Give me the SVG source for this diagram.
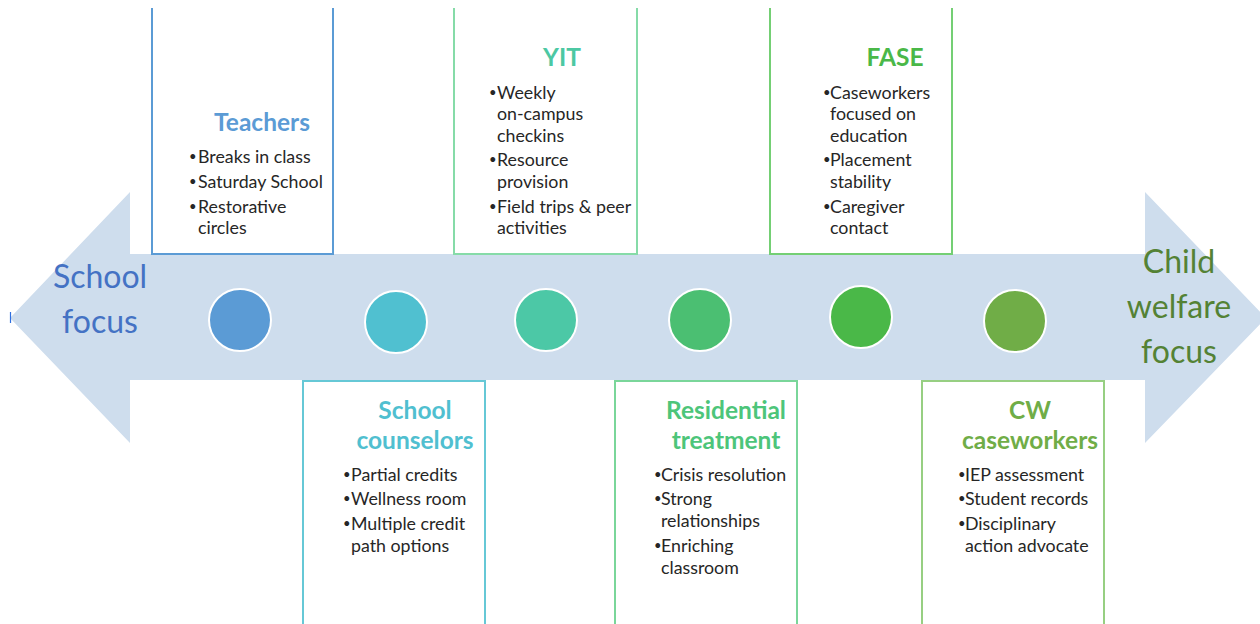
<svg xmlns="http://www.w3.org/2000/svg" width="1260" height="624" viewBox="0 0 1260 624">
<style>
.bg{fill:#ffffff}
.arrow{fill:#cedded}
.dot{stroke:#ffffff;stroke-width:2}
.box{fill:none;stroke-width:2}
.t{font-family:Lato,"Liberation Sans",sans-serif;font-weight:bold;font-size:24.5px;text-anchor:middle}
.b{font-family:Lato,"Liberation Sans",sans-serif;font-size:17.8px;fill:#262626}
.d{font-size:13px;baseline-shift:2px}
.f{font-family:Lato,"Liberation Sans",sans-serif;font-size:32px;text-anchor:middle}
</style>
<rect class="bg" x="0" y="0" width="1260" height="624"/>
<g id="arrow">
<path class="arrow" d="M10,318 L130,192 L130,254 L1145,254 L1145,192 L1266,318 L1145,443 L1145,380 L130,380 L130,443 Z"/>
<line x1="10.5" y1="312" x2="10.5" y2="323" stroke="#2f6fe0" stroke-width="1.2"/>
</g>
<g id="school-focus">
<text class="f" x="100" y="288" fill="#4472c4">School</text>
<text class="f" x="100" y="333" fill="#4472c4">focus</text>
</g>
<g id="child-welfare-focus">
<text class="f" x="1179" y="273" fill="#548235">Child</text>
<text class="f" x="1179" y="318" fill="#548235">welfare</text>
<text class="f" x="1179" y="363" fill="#548235">focus</text>
</g>
<g id="dots">
<circle class="dot" cx="240" cy="320" r="31" fill="#5b9bd5"/>
<circle class="dot" cx="396" cy="322" r="31" fill="#50c0d0"/>
<circle class="dot" cx="546" cy="320" r="31" fill="#4cc8a6"/>
<circle class="dot" cx="700" cy="320" r="31" fill="#4bbf72"/>
<circle class="dot" cx="861" cy="317" r="31" fill="#4ab848"/>
<circle class="dot" cx="1015" cy="321" r="31" fill="#70ad47"/>
</g>
<g id="teachers">
<path class="box" stroke="#5b9bd5" d="M152,8 V254 H333 V8"/>
<text class="t" x="262" y="131" fill="#5b9bd5">Teachers</text>
<text class="b" x="189" y="163"><tspan class="d">•</tspan><tspan x="198">Breaks in class</tspan></text>
<text class="b" x="189" y="188"><tspan class="d">•</tspan><tspan x="198">Saturday School</tspan></text>
<text class="b" x="189" y="213"><tspan class="d">•</tspan><tspan x="198">Restorative</tspan></text>
<text class="b" x="198" y="234">circles</text>
</g>
<g id="yit">
<path class="box" stroke="#86dba8" d="M454,8 V254 H637 V8"/>
<text class="t" x="562" y="66" fill="#4cc8a3">YIT</text>
<text class="b" x="489" y="99"><tspan class="d">•</tspan><tspan x="497">Weekly</tspan></text>
<text class="b" x="497" y="120">on-campus</text>
<text class="b" x="497" y="142">checkins</text>
<text class="b" x="489" y="166"><tspan class="d">•</tspan><tspan x="497">Resource</tspan></text>
<text class="b" x="497" y="188">provision</text>
<text class="b" x="489" y="213"><tspan class="d">•</tspan><tspan x="497">Field trips &amp; peer</tspan></text>
<text class="b" x="497" y="234">activities</text>
</g>
<g id="fase">
<path class="box" stroke="#74cf74" d="M770,8 V254 H952 V8"/>
<text class="t" x="895" y="66" fill="#4ab848">FASE</text>
<text class="b" x="823" y="99"><tspan class="d">•</tspan><tspan x="830">Caseworkers</tspan></text>
<text class="b" x="830" y="120">focused on</text>
<text class="b" x="830" y="142">education</text>
<text class="b" x="823" y="166"><tspan class="d">•</tspan><tspan x="830">Placement</tspan></text>
<text class="b" x="830" y="188">stability</text>
<text class="b" x="823" y="213"><tspan class="d">•</tspan><tspan x="830">Caregiver</tspan></text>
<text class="b" x="830" y="234">contact</text>
</g>
<g id="school-counselors">
<path class="box" stroke="#66c8d6" d="M303,624 V381 H485 V624"/>
<text class="t" x="415" y="419" fill="#50bfd0">School</text>
<text class="t" x="415" y="449" fill="#50bfd0">counselors</text>
<text class="b" x="343" y="481"><tspan class="d">•</tspan><tspan x="351">Partial credits</tspan></text>
<text class="b" x="343" y="505"><tspan class="d">•</tspan><tspan x="351">Wellness room</tspan></text>
<text class="b" x="343" y="530"><tspan class="d">•</tspan><tspan x="351">Multiple credit</tspan></text>
<text class="b" x="351" y="552">path options</text>
</g>
<g id="residential-treatment">
<path class="box" stroke="#7ad69a" d="M615,624 V381 H797 V624"/>
<text class="t" x="726" y="419" fill="#4dc57a">Residential</text>
<text class="t" x="726" y="449" fill="#4dc57a">treatment</text>
<text class="b" x="654" y="481"><tspan class="d">•</tspan><tspan x="661">Crisis resolution</tspan></text>
<text class="b" x="654" y="505"><tspan class="d">•</tspan><tspan x="661">Strong</tspan></text>
<text class="b" x="661" y="527">relationships</text>
<text class="b" x="654" y="552"><tspan class="d">•</tspan><tspan x="661">Enriching</tspan></text>
<text class="b" x="661" y="574">classroom</text>
</g>
<g id="cw-caseworkers">
<path class="box" stroke="#97cf82" d="M922,624 V381 H1104 V624"/>
<text class="t" x="1030" y="419" fill="#70ad47">CW</text>
<text class="t" x="1030" y="449" fill="#70ad47">caseworkers</text>
<text class="b" x="958" y="481"><tspan class="d">•</tspan><tspan x="965">IEP assessment</tspan></text>
<text class="b" x="958" y="505"><tspan class="d">•</tspan><tspan x="965">Student records</tspan></text>
<text class="b" x="958" y="530"><tspan class="d">•</tspan><tspan x="965">Disciplinary</tspan></text>
<text class="b" x="965" y="552">action advocate</text>
</g>
</svg>
